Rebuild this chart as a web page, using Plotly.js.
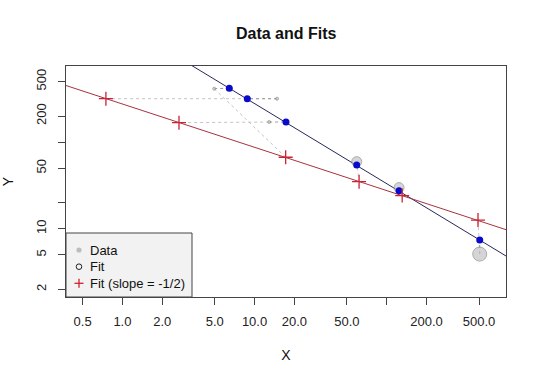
<!DOCTYPE html>
<html>
<head>
<meta charset="utf-8">
<script src="https://cdn.plot.ly/plotly-3.0.1.min.js"></script>
<style>html,body{margin:0;padding:0;background:#fff;}#chart{width:540px;height:380px;}</style>
</head>
<body>
<div id="chart"></div>
<script>
// Observed data
var dataX = [4.95, 14.8, 12.9, 59.3, 124, 506];
var dataY = [415, 318, 171, 59.6, 29.9, 5.1];
var dataWeight = [0.3, 0.3, 0.3, 1.0, 1.0, 1.4];

// Free fit (fitted points)
var fitX = [6.44, 8.81, 17.3, 59.3, 124, 506];
var fitY = [420, 318, 171, 54.6, 27.5, 7.43];
var fitLogIntercept = 3.371;
var fitSlope = -0.925;

// Fit with slope = -1/2 (fitted points, aligned with data)
var halfX = [17.2, 0.75, 2.68, 61.8, 131, 491];
var halfY = [67, 318, 168, 35, 24.2, 12.6];
var halfLogIntercept = 2.441;
var halfSlope = -0.5;

// Tick labels
var xTickVals = [0.5, 1, 2, 5, 10, 20, 50, 100, 200, 500];
var xTickText = ["0.5", "1.0", "2.0", "5.0", "10.0", "20.0", "50.0", "", "200.0", "500.0"];
var yTickVals = [2, 5, 10, 20, 50, 100, 200, 500];
var yTickText = ["2", "5", "10", "", "50", "", "200", "500"];

var legendNames = ["Data", "Fit", "Fit (slope = -1/2)"];

function segments(ax, ay, bx, by) {
  var sx = [], sy = [];
  for (var i = 0; i < ax.length; i++) {
    sx.push(ax[i], bx[i], null);
    sy.push(ay[i], by[i], null);
  }
  return {x: sx, y: sy};
}
function lineThrough(logA, b, xs) {
  return {x: xs, y: xs.map(function (v) { return Math.pow(10, logA + b * Math.log10(v)); })};
}

var xRange = [-0.427, 2.903];
var yRange = [0.212, 2.880];
var lineXs = [Math.pow(10, xRange[0] - 0.5), Math.pow(10, xRange[1] + 0.5)];

var segHalf = segments(dataX, dataY, halfX, halfY);
var segFit = segments(dataX, dataY, fitX, fitY);
var lnFit = lineThrough(fitLogIntercept, fitSlope, lineXs);
var lnHalf = lineThrough(halfLogIntercept, halfSlope, lineXs);

var redCol = '#cc2233';
var traces = [
  {x: segHalf.x, y: segHalf.y, mode: 'lines', line: {color: '#c4c4c4', width: 1, dash: 'dot'}, showlegend: false, hoverinfo: 'skip'},
  {x: segFit.x, y: segFit.y, mode: 'lines', line: {color: '#9a9a9a', width: 1, dash: 'dot'}, showlegend: false, hoverinfo: 'skip'},
  {x: lnFit.x, y: lnFit.y, mode: 'lines', line: {color: '#22285a', width: 1}, showlegend: false},
  {x: lnHalf.x, y: lnHalf.y, mode: 'lines', line: {color: '#a8323e', width: 1}, showlegend: false},
  {x: dataX, y: dataY, mode: 'markers', showlegend: false,
   marker: {symbol: 'circle', color: '#c4c4c4', size: dataWeight.map(function (w) { return 10 * w; }), line: {color: '#8a8a8a', width: 1}}},
  {x: fitX, y: fitY, mode: 'markers', showlegend: false,
   marker: {symbol: 'circle', color: '#0a0acc', size: 7, line: {width: 0}}},
  {x: halfX, y: halfY, mode: 'markers', showlegend: false,
   marker: {symbol: 'cross-thin', size: 10, line: {color: redCol, width: 1.3}}}
];

var font = {family: 'Liberation Sans, Arial, sans-serif', color: '#111', size: 13};
var plotL = 66, plotR = 506, plotT = 66, plotB = 297;
var W = 540, H = 380;
function px2paperX(p) { return (p - plotL) / (plotR - plotL); }
function px2paperY(p) { return (plotB - p) / (plotB - plotT); }

// Hand-drawn legend (R-style box in the lower-left corner)
var legRowsPx = [250, 266.7, 283.3];
var legKeyX = px2paperX(79);
var legTextX = px2paperX(88);
var shapes = [{
  type: 'rect', xref: 'paper', yref: 'paper', layer: 'below',
  x0: 0, x1: px2paperX(192), y0: 0, y1: px2paperY(233),
  fillcolor: '#f2f2f2', line: {color: '#444', width: 1}
}];
function keyCircle(row, r, fill, lineCol) {
  return {type: 'circle', xref: 'paper', yref: 'paper', xsizemode: 'pixel', ysizemode: 'pixel',
    xanchor: legKeyX, yanchor: px2paperY(legRowsPx[row]), x0: -r, x1: r, y0: -r, y1: r,
    fillcolor: fill, line: {color: lineCol, width: lineCol === 'rgba(0,0,0,0)' ? 0 : 1}};
}
function keyLine(row, dx0, dy0, dx1, dy1, col) {
  return {type: 'line', xref: 'paper', yref: 'paper', xsizemode: 'pixel', ysizemode: 'pixel',
    xanchor: legKeyX, yanchor: px2paperY(legRowsPx[row]), x0: dx0, x1: dx1, y0: dy0, y1: dy1,
    line: {color: col, width: 1.3}};
}
shapes.push(keyCircle(0, 2.6, '#bdbdbd', 'rgba(0,0,0,0)'));
shapes.push(keyCircle(1, 2.8, 'rgba(0,0,0,0)', '#222'));
shapes.push(keyLine(2, -4.5, 0, 4.5, 0, redCol));
shapes.push(keyLine(2, 0, -4.5, 0, 4.5, redCol));

var annotations = legendNames.map(function (name, i) {
  return {text: name, xref: 'paper', yref: 'paper', x: legTextX, y: px2paperY(legRowsPx[i]),
    xanchor: 'left', yanchor: 'middle', showarrow: false,
    font: {family: font.family, size: 13, color: '#111'}};
});

var layout = {
  width: W, height: H,
  margin: {l: plotL, r: W - plotR, t: plotT, b: H - plotB, pad: 0},
  paper_bgcolor: '#fff', plot_bgcolor: '#fff',
  font: font,
  title: {text: '<b>Data and Fits</b>', font: {family: font.family, size: 16, color: '#111'}, x: 0.53, xanchor: 'center', y: 1 - 33 / H, yanchor: 'middle'},
  xaxis: {
    type: 'log', range: xRange, tickvals: xTickVals, ticktext: xTickText,
    ticks: 'outside', ticklen: 7, tickcolor: '#444', tickwidth: 1,
    showline: true, linecolor: '#444', linewidth: 1, mirror: true,
    showgrid: false, zeroline: false, ticklabelstandoff: 5,
    tickfont: {family: font.family, size: 13, color: '#222'},
    title: {text: 'X', font: {family: font.family, size: 14, color: '#111'}, standoff: 22}
  },
  yaxis: {
    type: 'log', range: yRange, tickvals: yTickVals, ticktext: yTickText,
    ticks: 'outside', ticklen: 7, tickcolor: '#444', tickwidth: 1, tickangle: -90,
    showline: true, linecolor: '#444', linewidth: 1, mirror: true,
    showgrid: false, zeroline: false, ticklabelstandoff: 7,
    tickfont: {family: font.family, size: 13, color: '#222'},
    title: {text: 'Y', font: {family: font.family, size: 14, color: '#111'}, standoff: 21}
  },
  showlegend: false,
  shapes: shapes,
  annotations: annotations
};

Plotly.newPlot('chart', traces, layout, {staticPlot: true});
</script>
</body>
</html>
